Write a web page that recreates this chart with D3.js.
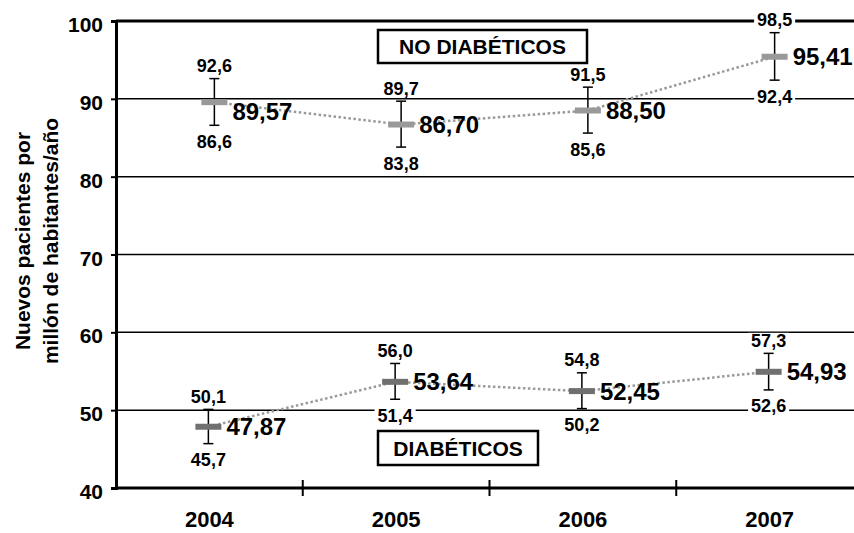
<!DOCTYPE html>
<html>
<head>
<meta charset="utf-8">
<script src="https://cdn.jsdelivr.net/npm/d3@7"></script>
<style>
  body { margin: 0; background: #fff; }
  text { font-family: "Liberation Sans", Arial, sans-serif; font-weight: bold; fill: #000; }
</style>
</head>
<body>
<script>
// Data
var years = ["2004", "2005", "2006", "2007"];
var noDiabMean = [89.57, 86.70, 88.50, 95.41];
var noDiabLow  = [86.6, 83.8, 85.6, 92.4];
var noDiabHigh = [92.6, 89.7, 91.5, 98.5];
var diabMean = [47.87, 53.64, 52.45, 54.93];
var diabLow  = [45.7, 51.4, 50.2, 52.6];
var diabHigh = [50.1, 56.0, 54.8, 57.3];
var yTicks = [40, 50, 60, 70, 80, 90, 100];

var svgWidth = 854;
var svgHeight = 533;
var plotLeft = 116, plotTop = 21, plotBottom = 488, plotRight = 863;

var svg = d3.select("body").append("svg")
  .attr("width", svgWidth)
  .attr("height", svgHeight);

var es = d3.formatLocale({decimal: ",", thousands: ".", grouping: [3], currency: ["", "€"]});
var fmt2 = es.format(".2f");
var fmt1 = es.format(".1f");

var x = d3.scaleBand().domain(years).range([plotLeft, plotRight]);
var y = d3.scaleLinear().domain([40, 100]).range([plotBottom, plotTop]);

// gridlines
svg.append("g").selectAll("line")
  .data(yTicks.filter(d => d > 40))
  .enter().append("line")
  .attr("x1", plotLeft).attr("x2", svgWidth)
  .attr("y1", d => y(d)).attr("y2", d => y(d))
  .attr("stroke", "#000")
  .attr("stroke-width", d => d === 100 ? 3 : 1.5);

// y axis
var yAxis = svg.append("g")
  .attr("transform", `translate(${plotLeft},0)`)
  .call(d3.axisLeft(y).tickValues(yTicks).tickSize(5).tickPadding(8));
yAxis.select(".domain").attr("stroke-width", 3);
yAxis.selectAll(".tick line").attr("stroke-width", 2);
yAxis.selectAll("text")
  .attr("font-size", 21)
  .attr("dy", "0.5em")
  .style("font-family", "Liberation Sans, Arial, sans-serif")
  .style("font-weight", "bold");

// x axis
var xAxis = svg.append("g")
  .attr("transform", `translate(0,${plotBottom})`)
  .call(d3.axisBottom(x).tickSize(0).tickPadding(23));
xAxis.select(".domain").remove();
xAxis.append("line")
  .attr("x1", plotLeft).attr("x2", svgWidth)
  .attr("stroke", "#000").attr("stroke-width", 3);
xAxis.selectAll(".sep")
  .data(years.slice(1))
  .enter().append("line")
  .attr("class", "sep")
  .attr("x1", d => x(d)).attr("x2", d => x(d))
  .attr("y1", -8).attr("y2", 8)
  .attr("stroke", "#000").attr("stroke-width", 2);
xAxis.selectAll(".tick text")
  .attr("font-size", 22)
  .style("font-family", "Liberation Sans, Arial, sans-serif")
  .style("font-weight", "bold");

// y title
var yTitle = svg.append("text")
  .attr("transform", "translate(0,241) rotate(-90)")
  .attr("text-anchor", "middle")
  .attr("font-size", 21);
yTitle.append("tspan").attr("x", 0).attr("y", 30).text("Nuevos pacientes por");
yTitle.append("tspan").attr("x", 0).attr("y", 58).text("millón de habitantes/año");

function labelBox(text, x0, y0, w, h) {
  var g = svg.append("g");
  g.append("rect")
    .attr("x", x0).attr("y", y0).attr("width", w).attr("height", h)
    .attr("fill", "#fff").attr("stroke", "#000").attr("stroke-width", 2.5);
  g.append("text")
    .attr("x", x0 + w / 2).attr("y", y0 + h / 2)
    .attr("dy", "0.36em")
    .attr("text-anchor", "middle")
    .attr("font-size", 21)
    .text(text);
}
labelBox("NO DIABÉTICOS", 378, 30, 209, 33);
labelBox("DIABÉTICOS", 378, 431, 160, 34);

function drawSeries(mean, low, high, dx, color) {
  var pts = years.map((yr, i) => ({
    cx: x(yr) + x.bandwidth() / 2 + dx,
    m: mean[i], lo: low[i], hi: high[i]
  }));
  var g = svg.append("g");

  g.append("path")
    .datum(pts)
    .attr("fill", "none")
    .attr("stroke", "#999")
    .attr("stroke-width", 2.5)
    .attr("stroke-dasharray", "2.5,2.5")
    .attr("d", d3.line().x(d => d.cx).y(d => y(d.m)));

  // error bars
  var eb = g.selectAll(".eb").data(pts).enter().append("g");
  eb.append("line")
    .attr("x1", d => d.cx).attr("x2", d => d.cx)
    .attr("y1", d => y(d.hi)).attr("y2", d => y(d.lo))
    .attr("stroke", "#000").attr("stroke-width", 1.5);
  eb.append("line")
    .attr("x1", d => d.cx - 5).attr("x2", d => d.cx + 5)
    .attr("y1", d => y(d.hi)).attr("y2", d => y(d.hi))
    .attr("stroke", "#000").attr("stroke-width", 1.5);
  eb.append("line")
    .attr("x1", d => d.cx - 5).attr("x2", d => d.cx + 5)
    .attr("y1", d => y(d.lo)).attr("y2", d => y(d.lo))
    .attr("stroke", "#000").attr("stroke-width", 1.5);

  // mean markers
  g.selectAll(".mk").data(pts).enter().append("rect")
    .attr("x", d => d.cx - 13).attr("y", d => y(d.m) - 3)
    .attr("width", 26).attr("height", 6)
    .attr("fill", color);

  // mean labels (pushed down when they would sit on a gridline)
  g.selectAll(".ml").data(pts).enter().append("text")
    .attr("x", d => d.cx + 18)
    .attr("y", d => {
      var yy = y(d.m);
      var near = yTicks.some(t => Math.abs(y(t) - yy) < 10);
      return near ? yy + 9 : yy;
    })
    .attr("dy", "0.36em")
    .attr("font-size", 24)
    .text(d => fmt2(d.m));

  // CI labels with white background
  pts.forEach(d => {
    [[d.hi, y(d.hi) - 13], [d.lo, y(d.lo) + 16]].forEach(p => {
      var lg = g.append("g").attr("transform", `translate(${d.cx},0)`);
      var t = lg.append("text")
        .attr("x", 0).attr("y", p[1])
        .attr("dy", "0.36em")
        .attr("text-anchor", "middle")
        .attr("font-size", 18)
        .text(fmt1(p[0]));
      var bb = t.node().getBBox();
      lg.insert("rect", "text")
        .attr("x", bb.x - 3).attr("y", bb.y + 2)
        .attr("width", bb.width + 6).attr("height", bb.height - 4)
        .attr("fill", "#fff");
    });
  });
}

drawSeries(noDiabMean, noDiabLow, noDiabHigh, 5, "#999999");
drawSeries(diabMean, diabLow, diabHigh, -1, "#707070");
</script>
</body>
</html>
